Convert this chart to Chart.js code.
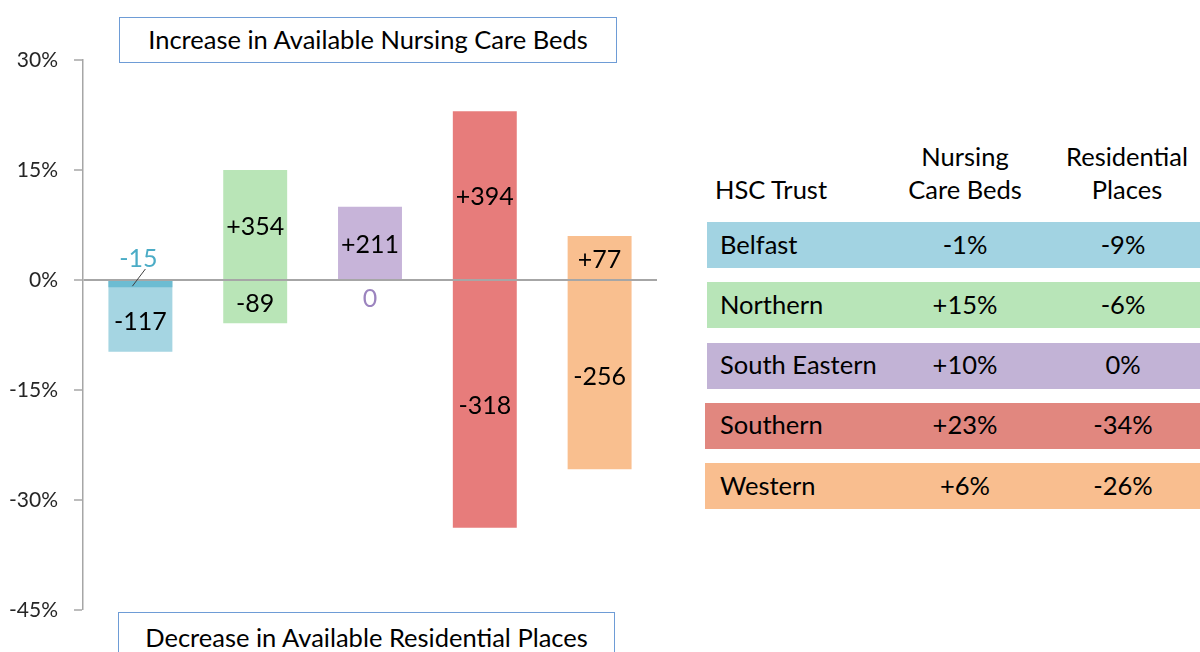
<!DOCTYPE html>
<html>
<head>
<meta charset="utf-8">
<script src="https://cdn.jsdelivr.net/npm/chart.js@4.4.0/dist/chart.umd.min.js"></script>
<style>
  html, body { margin:0; padding:0; background:#fff; }
  body { width:1200px; height:652px; position:relative; overflow:hidden; font-family: Lato, "Noto Sans", sans-serif; color:#000; }
  #wrap { position:absolute; left:0; top:0; width:660px; height:652px; }
  .box { position:absolute; border:1.5px solid #6E9CD6; background:#fff; box-sizing:border-box; text-align:center; font-size:25.5px; }
  .cell { position:absolute; font-size:25.5px; white-space:nowrap; }
  .band { position:absolute; height:46px; }
</style>
</head>
<body>
<div id="wrap"><canvas id="c"></canvas></div>
<div class="box" style="left:119px; top:17px; width:498px; height:46px; line-height:43px;">Increase in Available Nursing Care Beds</div>
<div class="box" style="left:118px; top:612px; width:497px; height:60px; line-height:48px;">Decrease in Available Residential Places</div>
<div id="table"></div>
<script>
// ---- data ----
const trusts = ["Belfast", "Northern", "South Eastern", "Southern", "Western"];
const nursingPct = [-1, 15, 10, 23, 6];
const residentialPct = [-9.8, -5.9, 0, -33.8, -25.8];
const nursingCounts = ["-15", "+354", "+211", "+394", "+77"];
const residentialCounts = ["-117", "-89", "0", "-318", "-256"];
const tableNursing = ["-1%", "+15%", "+10%", "+23%", "+6%"];
const tableResidential = ["-9%", "-6%", "0%", "-34%", "-26%"];
const yTicks = [30, 15, 0, -15, -30, -45];
const barColors = ["#A5D5E2", "#B9E5B7", "#C7B4D9", "#E77C7B", "#F9BF8F"];
const nursingColors = ["#6CBCD2", "#B9E5B7", "#C7B4D9", "#E77C7B", "#F9BF8F"];
const smallLabelColors = ["#4BACC6", "#6BAF69", "#9C84BF", "#C0504D", "#E69245"];
const tableColors = ["#A2D3E2", "#B8E5B8", "#C2B3D6", "#E1877F", "#F9BE8F"];

// ---- table ----
const t = document.getElementById('table');
function cell(txt, x, y, align) {
  const d = document.createElement('div');
  d.className = 'cell';
  d.textContent = txt;
  d.style.top = (y - 16) + 'px';
  d.style.lineHeight = '32px';
  if (align === 'center') { d.style.left = (x - 100) + 'px'; d.style.width = '200px'; d.style.textAlign = 'center'; }
  else d.style.left = x + 'px';
  t.appendChild(d);
}
cell("HSC Trust", 715, 189, 'left');
cell("Nursing", 965, 156, 'center');
cell("Care Beds", 965, 189, 'center');
cell("Residential", 1127, 156, 'center');
cell("Places", 1127, 189, 'center');
trusts.forEach((name, i) => {
  const top = 222 + i * 60.3;
  const b = document.createElement('div');
  b.className = 'band';
  b.style.left = (707 - (i >= 3 ? 2 : 0)) + 'px';
  b.style.top = top + 'px';
  b.style.width = '600px';
  b.style.background = tableColors[i];
  t.appendChild(b);
  cell(name, 720, top + 21.5, 'left');
  cell(tableNursing[i], 965, top + 21.5, 'center');
  cell(tableResidential[i], 1123, top + 21.5, 'center');
});

// ---- chart ----
const labelPlugin = {
  id: 'barLabels',
  afterDatasetsDraw(chart) {
    const ctx = chart.ctx;
    ctx.save();
    ctx.font = '25px Lato, "Noto Sans", sans-serif';
    ctx.textAlign = 'center';
    ctx.textBaseline = 'middle';
    const texts = [nursingCounts, residentialCounts];
    const nMeta = chart.getDatasetMeta(0);
    chart.data.datasets.forEach((ds, di) => {
      const meta = chart.getDatasetMeta(di);
      meta.data.forEach((el, i) => {
        const h = Math.abs(el.base - el.y);
        const txt = texts[di][i];
        if (h < 30) {
          ctx.fillStyle = smallLabelColors[i];
          if (di === 0) {
            const ly = el.base - 22;
            ctx.fillText(txt, el.x - 2, ly);
            ctx.strokeStyle = '#404040';
            ctx.lineWidth = 1;
            ctx.beginPath();
            ctx.moveTo(el.x - 8, (el.y + el.base) / 2 + 2);
            ctx.lineTo(el.x + 5, ly + 10);
            ctx.stroke();
          } else {
            ctx.fillText(txt, el.x, el.base + 19);
          }
        } else {
          ctx.fillStyle = '#000';
          let start = el.base;
          if (di === 1) {
            const n = nMeta.data[i];
            if ((n.y - n.base) * (el.y - el.base) > 0) start = n.y;
          }
          const cy = (el.y + start) / 2;
          ctx.fillText(txt, el.x, cy + 2);
        }
      });
    });
    ctx.restore();
  }
};

new Chart(document.getElementById('c'), {
  type: 'bar',
  data: {
    labels: trusts,
    datasets: [
      { label: 'Nursing Care Beds', data: nursingPct, backgroundColor: nursingColors, grouped: false, barPercentage: 0.557, categoryPercentage: 1 },
      { label: 'Residential Places', data: residentialPct, backgroundColor: barColors, grouped: false, barPercentage: 0.557, categoryPercentage: 1 }
    ]
  },
  options: {
    responsive: true,
    maintainAspectRatio: false,
    animation: false,
    layout: { padding: { top: 60, right: 3, bottom: 42, left: 0 } },
    plugins: { legend: { display: false }, tooltip: { enabled: false } },
    scales: {
      x: { display: false },
      y: {
        min: -45, max: 30,
        afterBuildTicks: (s) => { s.ticks = yTicks.map(v => ({ value: v })); },
        afterFit: (s) => { s.width = 83; },
        border: { display: true, color: '#A6A6A6', width: 1.5 },
        grid: {
          drawTicks: true, tickLength: 9, tickColor: '#A6A6A6', tickWidth: 1.5,
          color: (c) => (c.tick && c.tick.value === 0) ? '#A6A6A6' : 'rgba(0,0,0,0)',
          lineWidth: (c) => (c.tick && c.tick.value === 0) ? 2 : 0
        },
        ticks: {
          padding: 16,
          color: '#262626',
          font: { family: 'Lato, "Noto Sans", sans-serif', size: 21 },
          callback: (v) => v + '%'
        }
      }
    }
  },
  plugins: [labelPlugin]
});
</script>
</body>
</html>
